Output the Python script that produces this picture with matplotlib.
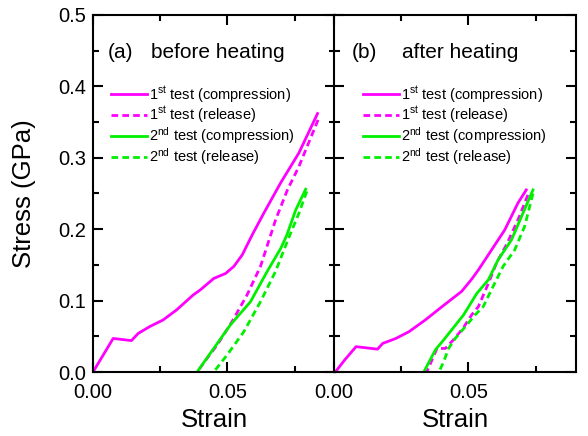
import matplotlib
matplotlib.use('Agg')
import matplotlib.pyplot as plt
from matplotlib.ticker import MultipleLocator, FormatStrFormatter

plt.rcParams['font.family'] = ['Liberation Sans', 'DejaVu Sans']
plt.rcParams['mathtext.fontset'] = 'custom'
plt.rcParams['mathtext.rm'] = 'Liberation Sans'
plt.rcParams['mathtext.it'] = 'Liberation Sans:italic'

MAG = '#FF00FF'
GRN = '#00F000'

# (a) before heating
a1c_x = [0.0, 0.0075, 0.0143, 0.0168, 0.0211, 0.0261, 0.0311, 0.0373, 0.0399, 0.0449,
         0.0493, 0.0524, 0.0555, 0.0592, 0.0636, 0.0698, 0.0766, 0.0835]
a1c_y = [0.0, 0.047, 0.044, 0.054, 0.0636, 0.073, 0.087, 0.108, 0.115, 0.131,
         0.138, 0.148, 0.164, 0.192, 0.223, 0.265, 0.307, 0.362]
a1r_x = [0.0837, 0.0766, 0.0723, 0.0679, 0.0623, 0.0573, 0.0517, 0.0462, 0.0424, 0.0393, 0.0387]
a1r_y = [0.353, 0.288, 0.255, 0.213, 0.148, 0.108, 0.0705, 0.038, 0.019, 0.003, 0.0]
a2c_x = [0.0387, 0.0449, 0.0511, 0.0586, 0.0648, 0.0698, 0.0720, 0.0754, 0.0791]
a2c_y = [0.0, 0.033, 0.066, 0.0986, 0.141, 0.173, 0.191, 0.227, 0.256]
a2r_x = [0.0795, 0.0766, 0.0728, 0.0679, 0.0623, 0.0561, 0.0499, 0.0449]
a2r_y = [0.253, 0.2225, 0.188, 0.141, 0.0986, 0.0565, 0.024, 0.0]

# (b) after heating
b1c_x = [0.0005, 0.004, 0.0082, 0.0162, 0.0181, 0.023, 0.0279, 0.034, 0.0402, 0.0475,
         0.0512, 0.0537, 0.0586, 0.0635, 0.0684, 0.0715]
b1c_y = [0.0, 0.017, 0.0355, 0.032, 0.040, 0.047, 0.0565, 0.073, 0.0916, 0.113,
         0.130, 0.143, 0.171, 0.199, 0.2366, 0.255]
b1r_x = [0.0721, 0.0684, 0.0641, 0.0604, 0.0574, 0.0537, 0.0512, 0.048, 0.0444, 0.0414, 0.0383, 0.0345]
b1r_y = [0.248, 0.213, 0.178, 0.1525, 0.124, 0.0916, 0.080, 0.0614, 0.045, 0.033, 0.033, 0.0]
b2c_x = [0.0334, 0.0377, 0.0408, 0.0482, 0.0531, 0.0574, 0.061, 0.066, 0.0703, 0.074]
b2c_y = [0.0, 0.031, 0.045, 0.080, 0.110, 0.129, 0.157, 0.185, 0.2226, 0.255]
b2r_x = [0.074, 0.0709, 0.0672, 0.0629, 0.0592, 0.0555, 0.0525, 0.0494, 0.0451, 0.0426, 0.0408, 0.039]
b2r_y = [0.25, 0.204, 0.171, 0.148, 0.12, 0.0916, 0.080, 0.066, 0.047, 0.033, 0.0145, 0.0]

labels = ['1$^{\\mathrm{st}}$ test (compression)', '1$^{\\mathrm{st}}$ test (release)',
          '2$^{\\mathrm{nd}}$ test (compression)', '2$^{\\mathrm{nd}}$ test (release)']

panels = [
    (a1c_x, a1c_y, a1r_x, a1r_y, a2c_x, a2c_y, a2r_x, a2r_y, '(a)', 'before heating'),
    (b1c_x, b1c_y, b1r_x, b1r_y, b2c_x, b2c_y, b2r_x, b2r_y, '(b)', 'after heating'),
]

fig = plt.figure(figsize=(5.88, 4.36), dpi=100)
lefts = [93 / 588, 334 / 588]
w = 242 / 588
bottom = 64 / 436
h = 357 / 436

legend_x = [0.074, 0.12]
tag_x = [0.062, 0.074]
title_x = [0.24, 0.281]

dash = (2.4, 1.5)
for i, p in enumerate(panels):
    ax = fig.add_axes([lefts[i], bottom, w, h])
    c1x, c1y, r1x, r1y, c2x, c2y, r2x, r2y, tag, title = p
    ax.plot(c1x, c1y, color=MAG, lw=2.0, label=labels[0])
    ax.plot(r1x, r1y, color=MAG, lw=2.0, ls=(0, dash), label=labels[1])
    ax.plot(c2x, c2y, color=GRN, lw=2.0, label=labels[2])
    ax.plot(r2x, r2y, color=GRN, lw=2.0, ls=(0, dash), label=labels[3])

    ax.set_xlim(0, 0.09)
    ax.set_ylim(0, 0.5)
    ax.xaxis.set_major_locator(MultipleLocator(0.05))
    ax.xaxis.set_minor_locator(MultipleLocator(0.025))
    ax.yaxis.set_major_locator(MultipleLocator(0.1))
    ax.yaxis.set_minor_locator(MultipleLocator(0.05))
    ax.xaxis.set_major_formatter(FormatStrFormatter('%.2f'))
    ax.yaxis.set_major_formatter(FormatStrFormatter('%.1f'))
    ax.tick_params(which='both', direction='in', top=True, right=True, width=1.5,
                   labelsize=14.5)
    ax.tick_params(axis='x', pad=8)
    ax.tick_params(axis='y', pad=5)
    ax.tick_params(which='major', length=7)
    ax.tick_params(which='minor', length=4)
    if i == 1:
        ax.tick_params(labelleft=False)
    for s in ax.spines.values():
        s.set_linewidth(1.5)

    ax.set_xlabel('Strain', fontsize=18.5, labelpad=4)
    ax.text(tag_x[i], 0.896, tag, transform=ax.transAxes, fontsize=15, va='center', ha='left')
    ax.text(title_x[i], 0.896, title, transform=ax.transAxes, fontsize=15, va='center', ha='left')

    ax.legend(loc='upper left', bbox_to_anchor=(legend_x[i], 0.806), frameon=False,
              fontsize=10.5, handlelength=2.5, handletextpad=0.1, borderpad=0,
              borderaxespad=0, labelspacing=0.0)

fig.text(24 / 588, 1 - 194 / 436, 'Stress (GPa)', rotation=90, fontsize=18.5,
         ha='center', va='center')

fig.savefig('out.png', dpi=100)
